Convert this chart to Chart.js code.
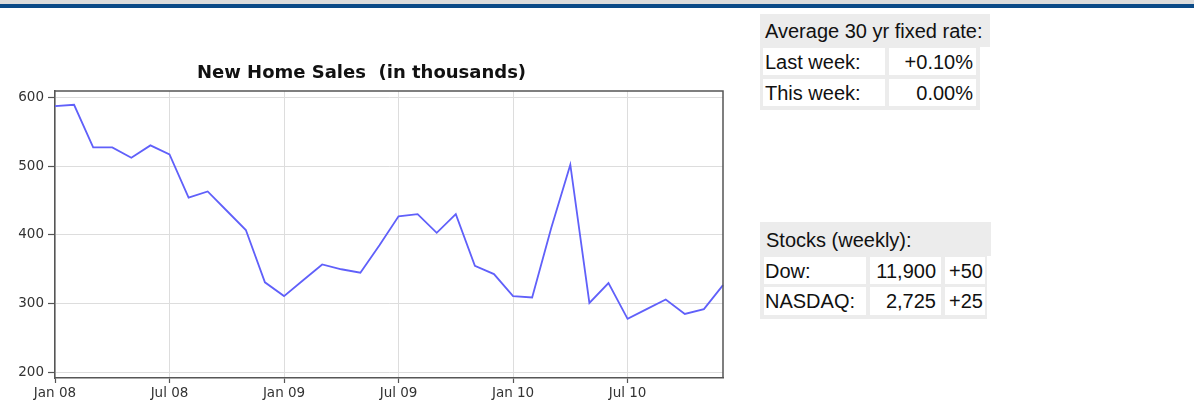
<!DOCTYPE html>
<html>
<head>
<meta charset="utf-8">
<script src="https://cdn.jsdelivr.net/npm/chart.js@4.4.1/dist/chart.umd.min.js"></script>
<style>
  html, body { margin: 0; padding: 0; background: #fff; width: 1194px; height: 403px; overflow: hidden; }
  #topband  { position: absolute; left: 0; top: 0; width: 1194px; height: 4px; background: #dcdcdc; z-index: 2; }
  #blueband { position: absolute; left: 0; top: 4px; width: 1194px; height: 4px; background: #0b4a87; z-index: 2; }
  #chartBox { position: absolute; left: 0; top: 0; width: 745px; height: 403px; }
  #chartBox canvas { filter: blur(0.35px); }
  .g { position: absolute; background: #ececec; }
  .c {
    position: absolute; background: #fff; color: #111; white-space: nowrap; box-sizing: border-box;
    font-family: "Liberation Sans", Arial, sans-serif; font-size: 20px;
  }
  .h { background: transparent; }
  .r { text-align: right; }
</style>
</head>
<body>
<div id="topband"></div>
<div id="blueband"></div>

<div id="chartBox"><canvas id="sales" width="745" height="403"></canvas></div>

<!-- mortgage rate box -->
<div class="g" style="left:760px;top:14px;width:230px;height:33px;"></div>
<div class="g" style="left:760px;top:46px;width:220px;height:64px;"></div>
<div class="c h" style="left:763px;top:15px;height:33px;line-height:33px;padding-left:2px;">Average 30 yr fixed rate:</div>
<div class="c" style="left:763px;top:48px;width:122px;height:27px;line-height:28px;padding-left:2px;">Last week:</div>
<div class="c r" style="left:889px;top:48px;width:87px;height:27px;line-height:28px;padding-right:3px;">+0.10%</div>
<div class="c" style="left:763px;top:79px;width:122px;height:27px;line-height:28px;padding-left:2px;">This week:</div>
<div class="c r" style="left:889px;top:79px;width:87px;height:27px;line-height:28px;padding-right:3px;">0.00%</div>

<!-- stocks box -->
<div class="g" style="left:760px;top:222px;width:231px;height:34px;"></div>
<div class="g" style="left:760px;top:255px;width:227px;height:64px;"></div>
<div class="c h" style="left:764px;top:223px;height:34px;line-height:34px;padding-left:2px;">Stocks (weekly):</div>
<div class="c" style="left:764px;top:257px;width:102px;height:27px;line-height:28px;padding-left:1px;">Dow:</div>
<div class="c r" style="left:870px;top:257px;width:71px;height:27px;line-height:28px;padding-right:5px;">11,900</div>
<div class="c" style="left:945px;top:257px;width:40px;height:27px;line-height:28px;padding-left:4px;">+50</div>
<div class="c" style="left:764px;top:287px;width:102px;height:28px;line-height:29px;padding-left:1px;">NASDAQ:</div>
<div class="c r" style="left:870px;top:287px;width:71px;height:28px;line-height:29px;padding-right:5px;">2,725</div>
<div class="c" style="left:945px;top:287px;width:40px;height:28px;line-height:29px;padding-left:4px;">+25</div>

<script>
// Monthly new home sales, thousands of units
const months = [
  'Jan 08', 'Feb 08', 'Mar 08', 'Apr 08', 'May 08', 'Jun 08',
  'Jul 08', 'Aug 08', 'Sep 08', 'Oct 08', 'Nov 08', 'Dec 08',
  'Jan 09', 'Feb 09', 'Mar 09', 'Apr 09', 'May 09', 'Jun 09',
  'Jul 09', 'Aug 09', 'Sep 09', 'Oct 09', 'Nov 09', 'Dec 09',
  'Jan 10', 'Feb 10', 'Mar 10', 'Apr 10', 'May 10', 'Jun 10',
  'Jul 10', 'Aug 10', 'Sep 10', 'Oct 10', 'Nov 10', 'Dec 10'
];
const sales = [
  587, 589, 527, 527, 512, 530,
  517, 454, 463, 435, 407, 331,
  311, 334, 357, 350, 345, 385,
  427, 430, 403, 430, 355, 343,
  311, 309, 410, 502, 301, 330,
  278, 292, 306, 285, 292, 327
];
const xTickLabels = ['Jan 08', 'Jul 08', 'Jan 09', 'Jul 09', 'Jan 10', 'Jul 10'];
const yTickValues = [200, 300, 400, 500, 600];
const yMin = 192;
const yMax = 609;

const axisColor = '#555';
const gridColor = '#dddddd';
const tickFont = { family: '"DejaVu Sans", Verdana, sans-serif', size: 13.5 };

// closes the plot box on the top and right sides
const plotFrame = {
  id: 'plotFrame',
  afterDatasetsDraw(chart) {
    const { ctx, chartArea: a } = chart;
    ctx.save();
    ctx.strokeStyle = axisColor;
    ctx.lineWidth = 1.5;
    ctx.beginPath();
    ctx.moveTo(a.left, a.top);
    ctx.lineTo(a.right, a.top);
    ctx.lineTo(a.right, a.bottom);
    ctx.stroke();
    ctx.restore();
  }
};

new Chart(document.getElementById('sales'), {
  type: 'line',
  data: {
    labels: months,
    datasets: [{
      data: sales,
      borderColor: '#6060fa',
      borderWidth: 1.8,
      pointRadius: 0,
      tension: 0,
      fill: false
    }]
  },
  options: {
    responsive: false,
    animation: false,
    layout: { padding: { top: 60, left: 0, right: 22, bottom: 0 } },
    plugins: {
      legend: { display: false },
      tooltip: { enabled: false },
      title: {
        display: true,
        text: 'New Home Sales  (in thousands)',
        color: '#111',
        font: { family: '"DejaVu Sans", Verdana, sans-serif', size: 18, weight: 'bold', lineHeight: 1.2 },
        padding: { top: 3, bottom: 6.4 }
      }
    },
    scales: {
      x: {
        type: 'category',
        offset: false,
        afterBuildTicks(scale) {
          scale.ticks = months
            .map((m, i) => ({ value: i }))
            .filter(t => xTickLabels.includes(months[t.value]));
        },
        afterFit(scale) { scale.height = 25; },
        grid: { color: gridColor, lineWidth: 1, tickLength: 5, tickColor: axisColor, tickWidth: 1.2 },
        border: { display: true, color: axisColor, width: 1.5 },
        ticks: { autoSkip: false, maxRotation: 0, color: '#333', font: tickFont, padding: 2 }
      },
      y: {
        min: yMin,
        max: yMax,
        afterBuildTicks(scale) {
          scale.ticks = yTickValues.map(v => ({ value: v }));
        },
        afterFit(scale) { scale.width = 55; },
        grid: { color: gridColor, lineWidth: 1, tickLength: 7, tickColor: axisColor, tickWidth: 1.2 },
        border: { display: true, color: axisColor, width: 1.5 },
        ticks: { color: '#333', font: tickFont, padding: 4 }
      }
    }
  },
  plugins: [plotFrame]
});
</script>
</body>
</html>
